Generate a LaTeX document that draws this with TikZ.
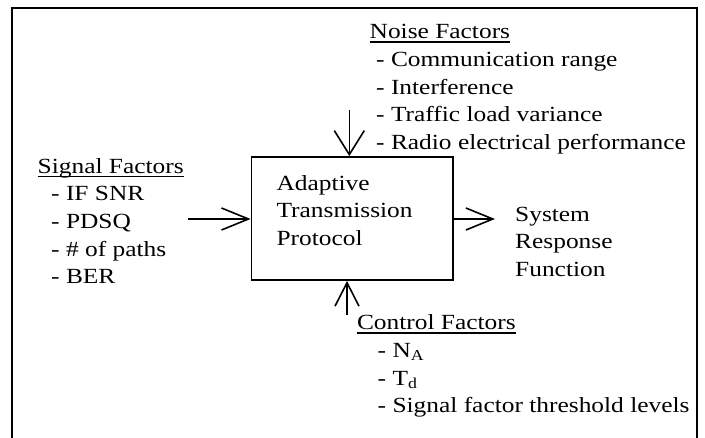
\documentclass[tikz,border=0pt]{standalone}
\usepackage{fontspec}
\setmainfont{Liberation Serif}[FakeStretch=1.176]
\usetikzlibrary{arrows.meta}
\begin{document}
\begin{tikzpicture}[x=1pt,y=-1pt,
  txt/.style={anchor=base west,inner sep=0pt,font=\fontsize{21.6}{27.7}\selectfont},
  frame/.style={line width=1.8pt},
  boxst/.style={draw,line width=1.8pt,inner sep=0pt,minimum width=201.5pt,minimum height=123pt},
  uline/.style={line width=1.1pt},
  harr/.style={line width=1.6pt,-{Straight Barb[length=27pt,width=22pt,line width=1.6pt]}},
  varrtop/.style={line width=1.6pt,-{Straight Barb[length=24pt,width=30pt,line width=1.6pt]}},
  varrbot/.style={line width=1.6pt,-{Straight Barb[length=23.5pt,width=24pt,line width=1.6pt]}}
]
\useasboundingbox (0,0) rectangle (705,437);
\draw[frame] (12,440) -- (12,8) -- (697,8) -- (697,440);

% central box
\node[boxst] (atp) at (352.25,218.5) {};
\node[txt] (atp1) at (276.4,190) {Adaptive};
\node[txt] (atp2) at (276.4,217.6) {Transmission};
\node[txt] (atp3) at (276.4,245.2) {Protocol};

% noise factors
\node[txt] (noiset) at (369.5,38.8) {Noise Factors};
\draw[uline] ([yshift=-3.2pt]noiset.base west) -- ([yshift=-3.2pt]noiset.base east);
\node[txt] (noise1) at (376,66.4) {- Communication range};
\node[txt] (noise2) at (376,94) {- Interference};
\node[txt] (noise3) at (376,121.6) {- Traffic load variance};
\node[txt] (noise4) at (376,149.2) {- Radio electrical performance};

% signal factors
\node[txt] (sigt) at (37.5,173.2) {Signal Factors};
\draw[uline] ([yshift=-3.2pt]sigt.base west) -- ([yshift=-3.2pt]sigt.base east);
\node[txt] (sig1) at (51,200.8) {- IF SNR};
\node[txt] (sig2) at (51,228.4) {- PDSQ};
\node[txt] (sig3) at (51,256) {- \# of paths};
\node[txt] (sig4) at (51,283.6) {- BER};

% response
\node[txt] (res1) at (515,221.7) {System};
\node[txt] (res2) at (515,248.9) {Response};
\node[txt] (res3) at (515,276.1) {Function};

% control factors
\node[txt] (ctrlt) at (356.8,329.8) {Control Factors};
\draw[uline] ([yshift=-3.2pt]ctrlt.base west) -- ([yshift=-3.2pt]ctrlt.base east);
\node[txt] (ctrl1) at (377.5,357.4) {- N\textsubscript{A}};
\node[txt] (ctrl2) at (377.5,385) {- T\textsubscript{d}};
\node[txt] (ctrl3) at (377.5,412.6) {- Signal factor threshold levels};

% connectors
\coordinate (sigin) at (188.3,219);
\draw[harr] (sigin) -- (sigin -| atp.west);
\coordinate (resout) at (495,219);
\draw[harr] (atp.east |- resout) -- (resout);
\coordinate (noisein) at (349.3,110);
\draw[varrtop] (noisein) -- (noisein |- atp.north);
\coordinate (ctrlin) at (347,315.3);
\draw[varrbot] (ctrlin) -- (ctrlin |- atp.south);
\end{tikzpicture}
\end{document}
